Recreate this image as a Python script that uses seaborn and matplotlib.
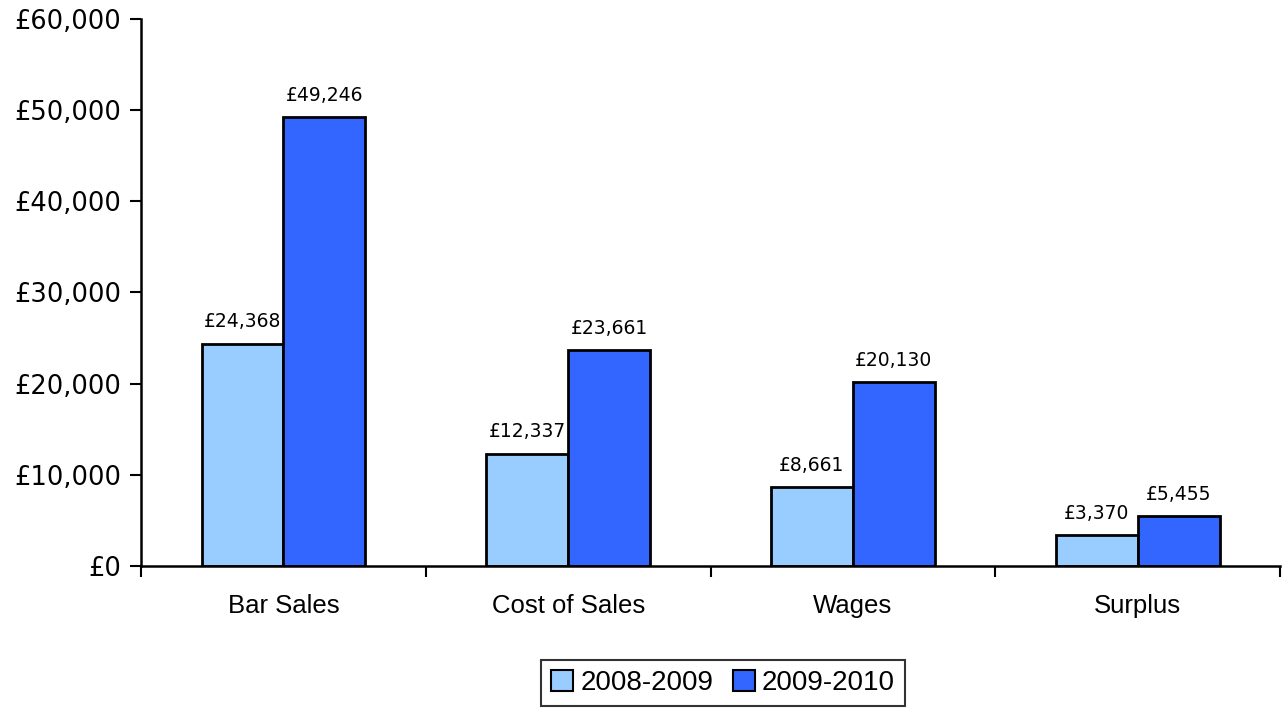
import pandas as pd
import numpy as np
import matplotlib.pyplot as plt
import seaborn as sns
from matplotlib.patches import Patch

# data
categories = ['Bar Sales', 'Cost of Sales', 'Wages', 'Surplus']
years = ['2008-2009', '2009-2010']
vals_0809 = [24368, 12337, 8661, 3370]
vals_0910 = [49246, 23661, 20130, 5455]
colors = ['#99CCFF', '#3366FF']

df = pd.DataFrame({
    'category': categories * 2,
    'year': [years[0]] * 4 + [years[1]] * 4,
    'value': vals_0809 + vals_0910,
})

sns.set_style('ticks')
plt.rcParams['font.family'] = ['Liberation Sans', 'DejaVu Sans']
plt.rcParams['text.color'] = 'black'
plt.rcParams['xtick.color'] = 'black'
plt.rcParams['ytick.color'] = 'black'

fig = plt.figure(figsize=(12.84, 7.09), dpi=100)
ax = fig.add_axes([0.1098, 0.2017, 0.8872, 0.7715])

sns.barplot(data=df, x='category', y='value', hue='year', order=categories,
            hue_order=years, palette=colors, width=0.575, gap=0,
            edgecolor='black', linewidth=2, saturation=1, ax=ax, legend=False)

# value labels
for cont in ax.containers:
    ax.bar_label(cont, labels=[f'£{v.get_height():,.0f}' for v in cont],
                 padding=9, fontsize=13.5, family='DejaVu Sans', color='black')

ax.set_xlim(-0.5, 3.5)
ax.set_ylim(0, 60000)
ax.set_yticks(np.arange(0, 60001, 10000))
ax.set_yticklabels([f'£{int(t):,}' for t in np.arange(0, 60001, 10000)],
                   fontsize=18.5, family='DejaVu Sans')
ax.tick_params(axis='y', length=8, width=1.5, pad=6, colors='black')
ax.tick_params(axis='x', which='major', length=0, labelsize=18.5, pad=20,
               colors='black')
ax.set_xticks(np.arange(-0.5, 3.6, 1), minor=True)
ax.tick_params(axis='x', which='minor', length=8, width=1.5)
ax.set_xlabel('')
ax.set_ylabel('')

sns.despine(ax=ax)
for s in ['left', 'bottom']:
    ax.spines[s].set_linewidth(1.8)
    ax.spines[s].set_color('black')

handles = [Patch(facecolor=c, edgecolor='black', linewidth=1.5) for c in colors]
leg = fig.legend(handles, years, loc='lower center', bbox_to_anchor=(0.563, -0.015),
                 ncol=2, fontsize=20, frameon=True, fancybox=False,
                 handlelength=0.8, handleheight=0.8, handletextpad=0.25,
                 columnspacing=0.7, borderpad=0.35)
leg.get_frame().set_edgecolor('black')
leg.get_frame().set_linewidth(1.5)

plt.savefig('out.png', dpi=100)
